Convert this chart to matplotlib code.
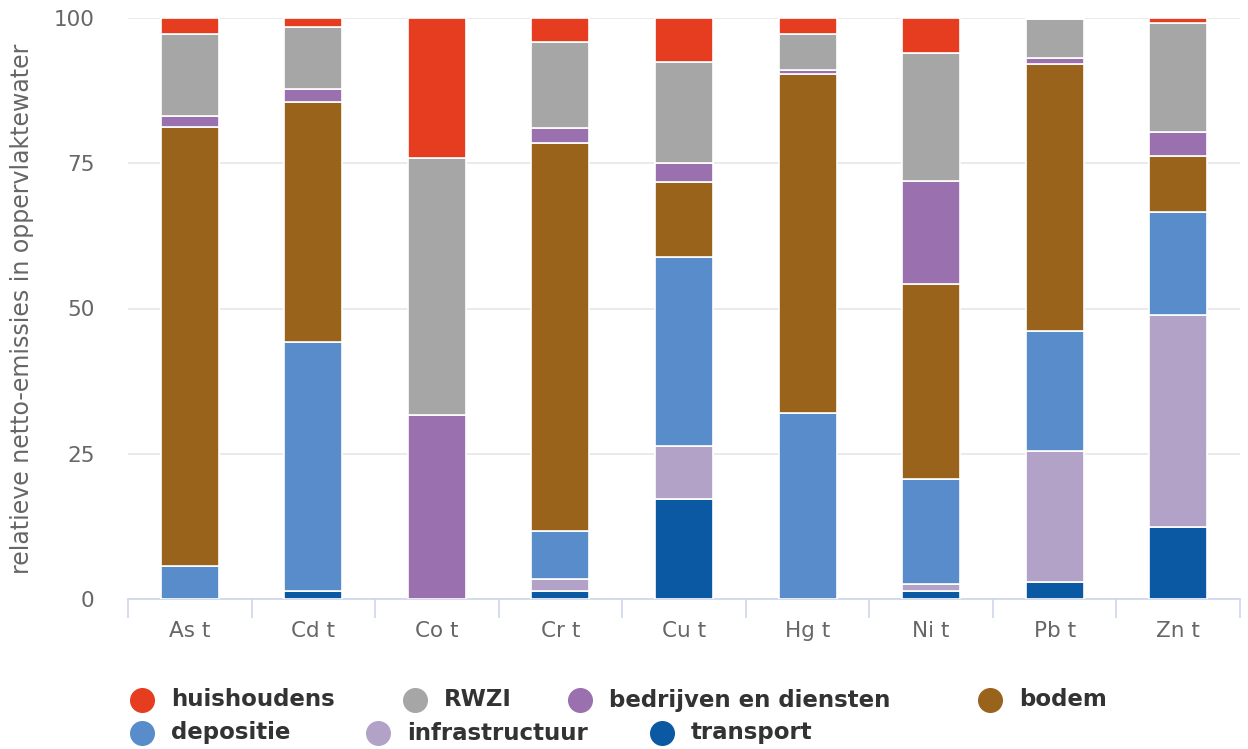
import numpy as np
import matplotlib
matplotlib.use("Agg")
import matplotlib.pyplot as plt
from matplotlib.lines import Line2D

# stoffen (x-as)
categories = ["As t", "Cd t", "Co t", "Cr t", "Cu t", "Hg t", "Ni t", "Pb t", "Zn t"]

# bronnen, van onder naar boven gestapeld
transport      = [0.0, 1.3, 0.0, 1.3, 17.2, 0.0, 1.3, 2.9, 12.4]
infrastructuur = [0.0, 0.0, 0.0, 2.2, 9.2, 0.0, 1.2, 22.5, 36.5]
depositie      = [5.7, 42.9, 0.0, 8.2, 32.5, 32.0, 18.2, 20.7, 17.7]
bodem          = [75.6, 41.3, 0.0, 66.8, 12.9, 58.3, 33.5, 46.0, 9.6]
bedrijven      = [1.9, 2.2, 31.6, 2.6, 3.3, 0.7, 17.7, 1.1, 4.1]
rwzi           = [14.0, 10.7, 44.3, 14.8, 17.4, 6.2, 22.1, 6.6, 18.9]
huishoudens    = [2.8, 1.6, 24.1, 4.1, 7.5, 2.8, 6.0, 0.2, 0.8]

stack_order = [
    ("transport", transport, "#0b58a3"),
    ("infrastructuur", infrastructuur, "#b3a2c8"),
    ("depositie", depositie, "#588ccb"),
    ("bodem", bodem, "#99631c"),
    ("bedrijven en diensten", bedrijven, "#9a71ae"),
    ("RWZI", rwzi, "#a6a6a6"),
    ("huishoudens", huishoudens, "#e63c20"),
]
legend_order = ["huishoudens", "RWZI", "bedrijven en diensten", "bodem",
                "depositie", "infrastructuur", "transport"]
# pixel positions of the legend markers (Highcharts-like flow layout)
legend_x = [142, 415, 580, 990, 142, 378, 662]
legend_y = [700, 700, 700, 700, 733, 733, 733]

fig = plt.figure(figsize=(12.48, 7.49), dpi=100)
ax = fig.add_axes([128/1248, 1-599/749, (1240-128)/1248, (599-18)/749])

x = np.arange(len(categories))
bottom = np.zeros(len(categories))
colors = {}
for name, vals, col in stack_order:
    vals = np.array(vals)
    ax.bar(x, vals, 0.47, bottom=bottom, color=col, edgecolor="white", linewidth=1.2, zorder=3)
    bottom += vals
    colors[name] = col

ax.set_xlim(-0.5, len(categories) - 0.5)
ax.set_ylim(0, 100)
ax.set_yticks([0, 25, 50, 75, 100])
ax.grid(axis="y", color="#e6e6e6", linewidth=1.2, zorder=0)
ax.set_axisbelow(True)
for s in ["top", "right", "left"]:
    ax.spines[s].set_visible(False)
ax.spines["bottom"].set_color("#ccd6eb")
ax.spines["bottom"].set_linewidth(1.2)

ax.set_xticks(x)
ax.set_xticklabels(categories)
ax.set_xticks(np.arange(-0.5, len(categories)), minor=True)
ax.tick_params(axis="x", which="major", length=0, pad=16, labelsize=15.5, labelcolor="#666666")
ax.tick_params(axis="x", which="minor", length=14, width=1.2, color="#ccd6eb")
ax.tick_params(axis="y", length=0, pad=24, labelsize=15.5, labelcolor="#666666")
ax.set_ylabel("relatieve netto-emissies in oppervlaktewater", fontsize=17, color="#666666")
ax.yaxis.set_label_coords(-94/1112, 0.5)

# legenda
for name, lx, ly in zip(legend_order, legend_x, legend_y):
    fig.add_artist(Line2D([lx/1248], [1 - ly/749], marker="o", markersize=17,
                          color=colors[name], linestyle="none", transform=fig.transFigure))
    fig.text((lx + 29)/1248, 1 - ly/749, name, fontsize=16.5, fontweight="bold",
             color="#333333", va="center", ha="left")

fig.savefig("out.png", dpi=100)
